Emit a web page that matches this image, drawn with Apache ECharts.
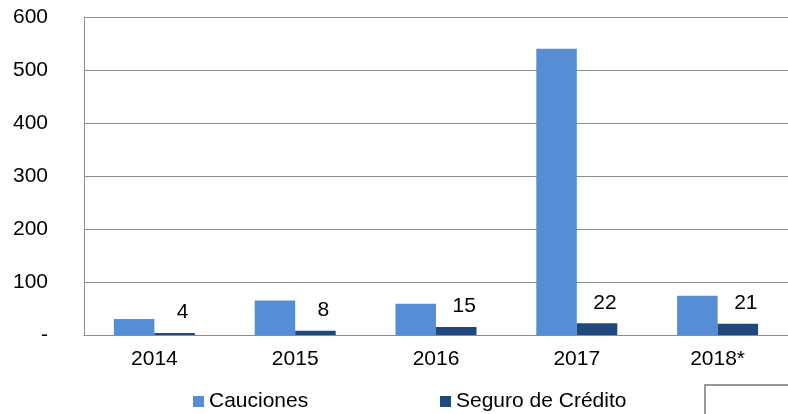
<!DOCTYPE html>
<html><head><meta charset="utf-8">
<script src="https://cdn.jsdelivr.net/npm/echarts@6/dist/echarts.min.js"></script>
<style>html,body{margin:0;padding:0;background:#fff}#c{width:788px;height:414px}</style>
</head><body><div id="c"></div>
<script>
var categories = ['2014','2015','2016','2017','2018*'];
var cauciones = [30, 65, 59, 540, 74];
var seguro = [4, 8, 15, 22, 21];
var yTicks = [0,100,200,300,400,500,600];

var chart = echarts.init(document.getElementById('c'), null, {renderer:'canvas'});
var font = 'Liberation Sans, Arial, sans-serif';
var legendText = {fontSize:21,color:'#000',fontFamily:font};
chart.setOption({
  animation:false,
  backgroundColor:'#fff',
  textStyle:{fontFamily:font},
  grid:{left:84,right:0,top:17,bottom:79,containLabel:false},
  legend:[
    {top:391, left:193, itemWidth:11, itemHeight:11, icon:'rect', itemGap:0, padding:0,
     textStyle:legendText, data:['Cauciones']},
    {top:391, left:440, itemWidth:11, itemHeight:11, icon:'rect', itemGap:0, padding:0,
     textStyle:legendText, data:['Seguro de Crédito']}
  ],
  xAxis:{
    type:'category', data:categories,
    axisLine:{lineStyle:{color:'#8c8c8c',width:1}},
    axisTick:{show:false},
    axisLabel:{fontSize:21,color:'#000',margin:14,fontFamily:font}
  },
  yAxis:{
    type:'value', min:0, max:600, interval:100,
    axisLine:{show:true,lineStyle:{color:'#8c8c8c',width:1}},
    axisTick:{show:false},
    splitLine:{lineStyle:{color:'#8c8c8c',width:1}},
    axisLabel:{fontSize:21,color:'#000',margin:36,fontFamily:font,
      formatter:function(v){return v===0?'-':String(v);}}
  },
  series:[
    {name:'Cauciones',type:'bar',data:cauciones,barWidth:40.5,barGap:'0%',
     itemStyle:{color:'#558ed5'}},
    {name:'Seguro de Crédito',type:'bar',data:seguro,barWidth:40.5,
     itemStyle:{color:'#1f497d'},
     label:{show:true,position:'top',distance:10,offset:[8,0],fontSize:21,color:'#000',fontFamily:font}}
  ],
  graphic:[{type:'rect',left:704,top:384,shape:{width:90,height:40},
    style:{fill:'#fff',stroke:'#999999',lineWidth:2}}]
});
</script></body></html>
